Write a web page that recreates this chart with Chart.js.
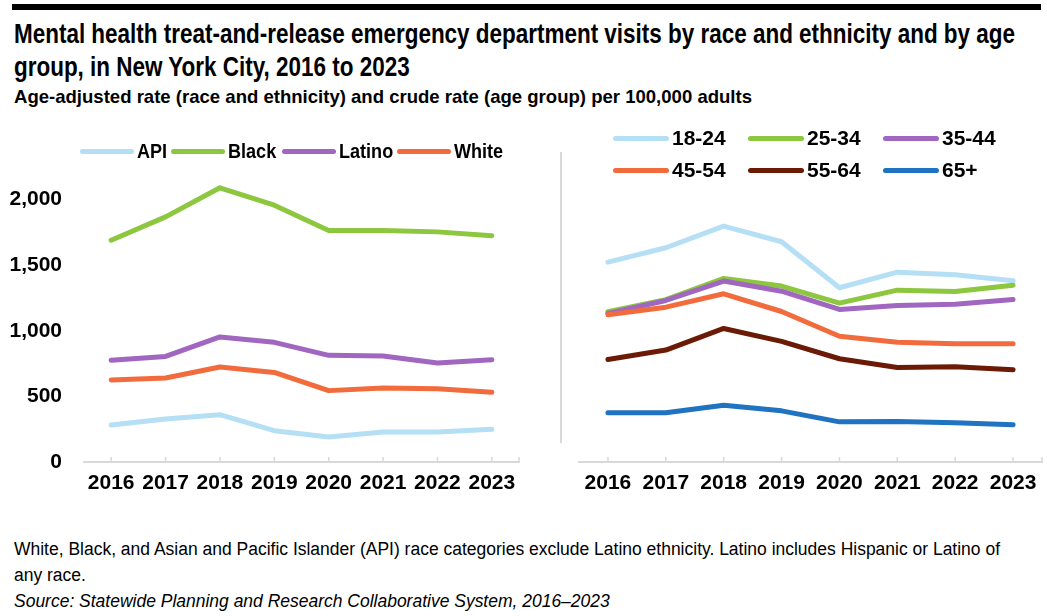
<!DOCTYPE html>
<html>
<head>
<meta charset="utf-8">
<script src="https://cdn.jsdelivr.net/npm/chart.js@4.4.1/dist/chart.umd.min.js"></script>
<style>
    body { margin: 0; width: 1047px; height: 616px; background: #fff; position: relative; overflow: hidden; color: #000;
           font-family: "Liberation Sans", Arial, sans-serif; }
    .topbar { position: absolute; left: 12px; right: 6px; top: 4px; height: 6px; background: #000; }
    .line { display: block; white-space: nowrap; transform-origin: 0 50%; width: max-content; }
    .title { position: absolute; left: 14px; top: 18px; font-size: 27px; line-height: 33px; font-weight: bold; }
    .subtitle { position: absolute; left: 14px; top: 86px; font-size: 19px; line-height: 22px; font-weight: bold; }
    .panel { position: absolute; top: 120px; }
    .divider { position: absolute; left: 560px; top: 152px; width: 2px; height: 291px; background: #d9d9d9; }
    .legend { position: absolute; left: 0; top: 0; font-weight: bold; font-size: 21px; }
    .legend .item { position: absolute; display: flex; align-items: center; white-space: nowrap; }
    .legend .swatch { width: 54px; height: 5px; border-radius: 3px; margin-right: 3px; }
    .legend .txt { display: inline-block; transform-origin: 0 50%; }
    .legend.words .txt { transform: scaleX(0.86); }
    .legend.digits { font-size: 21px; }
    .legend.digits .swatch { width: 56px; }
    .note { position: absolute; left: 14px; top: 536px; font-size: 18px; line-height: 26px; }
</style>
</head>
<body>
<div class="topbar"></div>
<div class="title" id="title">
    <span class="line">Mental health treat-and-release emergency department visits by race and ethnicity and by age</span>
    <span class="line">group, in New York City, 2016 to 2023</span>
</div>
<div class="subtitle" id="subtitle">
    <span class="line">Age-adjusted rate (race and ethnicity) and crude rate (age group) per 100,000 adults</span>
</div>

<div class="panel" style="left:0px;"><canvas id="raceChart" width="540" height="382"></canvas></div>
<div class="panel" style="left:560px;"><canvas id="ageChart" width="487" height="382"></canvas></div>
<div class="divider"></div>

<div class="legend words" id="raceLegend"></div>
<div class="legend digits" id="ageLegend"></div>

<div class="note" id="note">
    <span class="line">White, Black, and Asian and Pacific Islander (API) race categories exclude Latino ethnicity. Latino includes Hispanic or Latino of</span>
    <span class="line">any race.</span>
    <span class="line"><i>Source: Statewide Planning and Research Collaborative System, 2016–2023</i></span>
</div>

<script>
// ==================== DATA ====================
const years = ['2016', '2017', '2018', '2019', '2020', '2021', '2022', '2023'];
const yTicks = [0, 500, 1000, 1500, 2000];

// race and ethnicity (age-adjusted rate)
const raceNames = ['API', 'Black', 'Latino', 'White'];
const api    = [282, 328, 361, 239, 190, 229, 229, 249];
const black  = [1690, 1868, 2090, 1957, 1764, 1764, 1754, 1725];
const latino = [775, 805, 953, 912, 813, 808, 755, 780];
const white  = [625, 640, 724, 683, 544, 564, 559, 531];

// age group (crude rate)
const ageNames = ['18-24', '25-34', '35-44', '45-54', '55-64', '65+'];
const age18to24 = [1523, 1633, 1798, 1679, 1328, 1447, 1427, 1381];
const age25to34 = [1145, 1237, 1399, 1341, 1211, 1310, 1300, 1348];
const age35to44 = [1132, 1231, 1379, 1302, 1163, 1193, 1203, 1239];
const age45to54 = [1122, 1180, 1282, 1147, 959, 913, 901, 901];
const age55to64 = [781, 853, 1018, 919, 787, 721, 726, 703];
const age65plus = [375, 375, 433, 390, 306, 309, 299, 283];

const raceColors = ['#b4dff5', '#8dc63f', '#a066c0', '#f26b3d'];
const ageColors  = ['#b4dff5', '#8dc63f', '#a066c0', '#f26b3d', '#6b1a05', '#1f73c0'];

Chart.defaults.font.family = '"Liberation Sans", Arial, sans-serif';
Chart.defaults.color = '#000';

// ==================== HELPERS ====================
// no condensed font installed, so squeeze text blocks so the first line hits the original width
function fitLines(el, firstLineWidth) {
    const lines = el.querySelectorAll('.line');
    const k = firstLineWidth / lines[0].getBoundingClientRect().width;
    lines.forEach(l => { l.style.transform = 'scaleX(' + k + ')'; });
}

// small upward tick marks on the category axis, like the original
const upTicks = {
    id: 'upTicks',
    beforeDatasetsDraw(chart) {
        const xs = chart.scales.x, ctx = chart.ctx, y0 = chart.chartArea.bottom;
        ctx.save();
        ctx.strokeStyle = '#d9d9d9';
        ctx.lineWidth = 1.5;
        ctx.beginPath();
        xs.ticks.forEach((t, i) => {
            const px = xs.getPixelForTick(i);
            ctx.moveTo(px, y0); ctx.lineTo(px, y0 - 5);
        });
        ctx.moveTo(chart.chartArea.right, y0); ctx.lineTo(chart.chartArea.right, y0 - 5);
        ctx.stroke();
        ctx.restore();
    }
};

function makeDatasets(names, series, colors) {
    return series.map((data, i) => ({
        label: names[i],
        data: data,
        borderColor: colors[i],
        backgroundColor: colors[i],
        borderWidth: 5,
        borderCapStyle: 'round',
        borderJoinStyle: 'round',
        pointRadius: 0,
        tension: 0,
        order: -i   // later series on top
    }));
}

function makeOptions(showY, padding) {
    return {
        responsive: false,
        animation: false,
        layout: { padding: padding },
        plugins: { legend: { display: false }, tooltip: { enabled: false } },
        scales: {
            x: {
                offset: true,
                grid: { display: false, drawTicks: false },
                border: { display: true, color: '#d9d9d9', width: 2 },
                ticks: { padding: 9, maxRotation: 0, autoSkip: false, font: { size: 21, weight: 'bold' } },
                afterFit: s => { s.height = 40; }
            },
            y: {
                display: showY,
                min: 0,
                max: 2500,
                afterBuildTicks: s => { s.ticks = yTicks.map(v => ({ value: v })); },
                grid: { display: false, drawTicks: false },
                border: { display: false },
                ticks: { padding: 22, font: { size: 21, weight: 'bold' }, callback: v => v.toLocaleString('en-US') },
                afterFit: s => {
                    if (showY) s.width = 84;
                    s.paddingTop = 0;      // label padding would push the plot area down
                    s.paddingBottom = 0;
                }
            }
        }
    };
}

function buildLegend(el, names, colors, positions) {
    names.forEach((name, i) => {
        const item = document.createElement('div');
        item.className = 'item';
        item.style.left = positions[i][0] + 'px';
        item.style.top = positions[i][1] + 'px';
        item.innerHTML = `<span class="swatch" style="background:${colors[i]}"></span><span class="txt">${name}</span>`;
        el.appendChild(item);
    });
}

// ==================== CHARTS ====================
new Chart(document.getElementById('raceChart').getContext('2d'), {
    type: 'line',
    data: { labels: years, datasets: makeDatasets(raceNames, [api, black, latino, white], raceColors) },
    options: makeOptions(true, { top: 14, right: 21, left: 0, bottom: 0 }),
    plugins: [upTicks]
});

new Chart(document.getElementById('ageChart').getContext('2d'), {
    type: 'line',
    data: { labels: years, datasets: makeDatasets(ageNames, [age18to24, age25to34, age35to44, age45to54, age55to64, age65plus], ageColors) },
    options: makeOptions(false, { top: 14, right: 5, left: 19, bottom: 0 }),
    plugins: [upTicks]
});

// ==================== LEGENDS & TEXT ====================
buildLegend(document.getElementById('raceLegend'), raceNames, raceColors,
    [[80, 139], [171, 139], [282, 139], [397, 139]]);
buildLegend(document.getElementById('ageLegend'), ageNames, ageColors,
    [[613, 126], [748, 126], [883, 126], [613, 158], [748, 158], [883, 158]]);

fitLines(document.getElementById('title'), 1001);
fitLines(document.getElementById('subtitle'), 738);
fitLines(document.getElementById('note'), 986);
</script>
</body>
</html>
